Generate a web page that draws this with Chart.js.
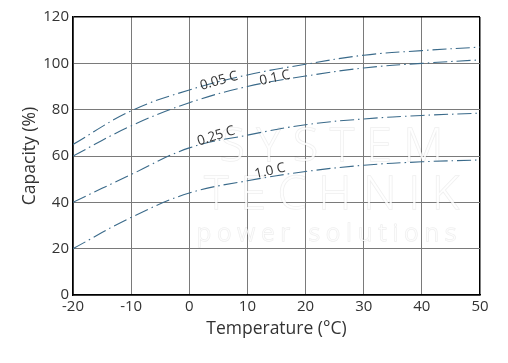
<!DOCTYPE html>
<html><head><meta charset="utf-8">
<script src="https://cdn.jsdelivr.net/npm/chart.js@4/dist/chart.umd.min.js"></script>
<style>html,body{margin:0;padding:0;background:#fff;}canvas{display:block;}</style>
</head><body>
<canvas id="c" width="508" height="363"></canvas>
<script>
const temperatures = [-20, -10, 0, 10, 20, 30, 40, 50];
const cap005 = [65, 79.5, 88.5, 95, 99.6, 103.5, 105.5, 107];
const cap01  = [60, 73, 83, 90, 94.5, 98, 100, 101.5];
const cap025 = [40, 52, 63.5, 69, 73.5, 76, 77.5, 78.5];
const cap10  = [20, 33.5, 44, 49.3, 53.3, 56, 57.5, 58.3];
const seriesNames = ['0.05 C', '0.1 C', '0.25 C', '1.0 C'];
const labelX = [5.1, 14.7, 4.6, 13.9];
const labelY = [92.4, 93.7, 68.6, 53.5];
const labelAngle = [-16, -12, -17, -13];

const FONT = '"Open Sans", Lato, sans-serif';
const LINE = '#3a6a8a';

function mk(vals, name) {
  return {
    label: name,
    data: temperatures.map((t, i) => ({x: t, y: vals[i]})),
    borderColor: LINE, borderWidth: 1.1,
    borderDash: [14, 4, 1.5, 4],
    pointRadius: 0, fill: false,
    tension: 0.4
  };
}

const curveLabels = {
  id: 'curveLabels',
  beforeDatasetsDraw(chart) {
    const {ctx, chartArea: a} = chart;
    ctx.save();
    ctx.beginPath(); ctx.rect(a.left, a.top, a.right - a.left, a.bottom - a.top); ctx.clip();
    ctx.textAlign = 'center'; ctx.textBaseline = 'middle';
    ctx.fillStyle = 'rgba(255,255,255,0.85)';
    ctx.strokeStyle = 'rgba(0,0,0,0.07)';
    ctx.lineWidth = 1.5;
    const cx = (a.left + a.right) / 2 + 55;
    ctx.font = '300 46px ' + FONT;
    [['S Y S T E M', 148], ['T E C H N I K', 196]].forEach(([t, y]) => {
      ctx.strokeText(t, cx, y); ctx.fillText(t, cx, y);
    });
    ctx.font = '300 24px ' + FONT;
    ctx.strokeText('p o w e r   s o l u t i o n s', cx - 5, 234);
    ctx.fillText('p o w e r   s o l u t i o n s', cx - 5, 234);
    ctx.restore();
  },
  afterDatasetsDraw(chart) {
    const {ctx, scales: {x, y}} = chart;
    ctx.save();
    ctx.fillStyle = '#333';
    ctx.font = '13.5px ' + FONT;
    ctx.textAlign = 'center'; ctx.textBaseline = 'middle';
    seriesNames.forEach((n, i) => {
      ctx.save();
      ctx.translate(x.getPixelForValue(labelX[i]), y.getPixelForValue(labelY[i]));
      ctx.rotate(labelAngle[i] * Math.PI / 180);
      ctx.fillText(n, 0, 0);
      ctx.restore();
    });
    ctx.restore();
  }
};

new Chart(document.getElementById('c'), {
  type: 'line',
  data: { datasets: [mk(cap005, seriesNames[0]), mk(cap01, seriesNames[1]), mk(cap025, seriesNames[2]), mk(cap10, seriesNames[3])] },
  options: {
    responsive: false, animation: false,
    layout: { padding: { top: 17, right: 28, left: 20, bottom: 23 } },
    plugins: { legend: { display: false }, tooltip: { enabled: false } },
    scales: {
      x: {
        type: 'linear', min: -20, max: 50,
        ticks: { stepSize: 10, color: '#333', font: { family: FONT, size: 15 }, padding: 3 },
        grid: { color: c => c.tick && c.tick.value === 50 ? '#000' : '#7a7a7a', lineWidth: c => c.tick && c.tick.value === 50 ? 1.5 : 1, drawTicks: false },
        border: { color: '#000', width: 1.5 },
        title: { display: true, text: 'Temperature (°C)', color: '#333', font: { family: FONT, size: 17.5 }, padding: 0 },
        afterFit: s => { s.height = 45; }
      },
      y: {
        min: 0, max: 120,
        ticks: { stepSize: 20, color: '#333', font: { family: FONT, size: 15 }, padding: 4 },
        grid: { color: c => c.tick && c.tick.value === 120 ? '#000' : '#7a7a7a', lineWidth: c => c.tick && c.tick.value === 120 ? 1.5 : 1, drawTicks: false },
        border: { color: '#000', width: 1.5 },
        title: { display: true, text: 'Capacity (%)', color: '#333', font: { family: FONT, size: 17.5 }, padding: 0 },
        afterFit: s => { s.width = 53; }
      }
    }
  },
  plugins: [curveLabels]
});
</script>
</body></html>
